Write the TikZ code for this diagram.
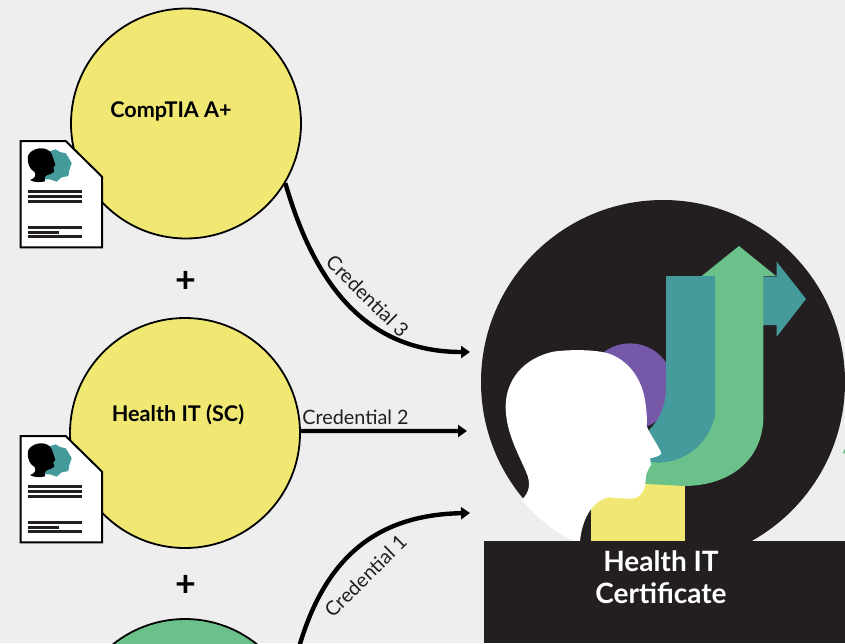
\documentclass[tikz,border=0pt]{standalone}
\usepackage{fontspec}
\setmainfont{Lato}
\usetikzlibrary{arrows.meta}
\definecolor{bgc}{HTML}{EEEEEE}
\definecolor{yel}{HTML}{F0E873}
\definecolor{grn}{HTML}{6AC18A}
\definecolor{tea}{HTML}{459B9B}
\definecolor{pur}{HTML}{7558A8}
\definecolor{blk}{HTML}{231F20}
\tikzset{
  cred/.style={circle,draw=black,line width=1.8pt,minimum size=230pt,inner sep=0pt},
  conn/.style={draw=black,line width=4.4pt,-{Triangle[length=9pt,width=12pt]}},
  lab/.style={font=\fontsize{21.6}{25}\selectfont\bfseries,text=black,inner sep=0pt},
  plus/.style={font=\fontsize{36}{38}\selectfont\bfseries,text=black,inner sep=0pt},
  clab/.style={font=\fontsize{19.8}{22}\selectfont,text=blk,inner sep=0pt},
  title/.style={font=\fontsize{28}{32}\selectfont\bfseries,text=white,align=center,inner sep=0pt},
  docline/.style={fill=blk,draw=none}
}
\newcommand{\docicon}[1]{%
 \begin{scope}[shift={(0pt,-#1pt)},x=0.33333pt,y=-0.33333pt]
  \draw[fill=white,draw=black,line width=2pt] (62,63)--(197,63)--(306,170)--(306,382)--(62,382)--cycle;
  \fill[tea] (167,88)--(180,96)--(197,100)--(205,112)--(215,130)--(208,150)--(205,168)--(185,172)--(170,185)--(150,178)--(125,178)--(120,130)--(145,95)--cycle;
  \fill[black] (90,180) .. controls (105,176) and (110,165) .. (103,155)
     .. controls (82,145) and (80,110) .. (87,102)
     .. controls (105,78) and (145,80) .. (155,102)
     .. controls (160,115) and (162,122) .. (166,135)
     -- (160,142) -- (163,155) -- (152,162)
     .. controls (135,165) and (132,172) .. (135,184)
     .. controls (120,188) and (100,187) .. (90,180) -- cycle;
  \fill[docline] (85,210) rectangle (245,218);
  \fill[docline] (85,225) rectangle (245,233);
  \fill[docline] (85,241) rectangle (245,249);
  \fill[docline] (85,319) rectangle (245,327);
  \fill[docline] (85,333) rectangle (177,341);
  \fill[docline] (85,346) rectangle (245,354);
 \end{scope}}
\begin{document}
\begin{tikzpicture}[x=1pt,y=-1pt]
\useasboundingbox (0,0) rectangle (845,643);
\clip (0,0) rectangle (845,643);
\fill[bgc] (0,0) rectangle (845,643);
% connector targets
\coordinate (t3) at (470,352);
\coordinate (t2) at (467,431);
\coordinate (t1) at (470,513);
% credential circles
\node[cred,fill=yel] (ca) at (186,123.5) {};
\node[cred,fill=yel] (cb) at (185,433) {};
\node[cred,fill=grn] (cc) at (185,734) {};
\node[lab] (la) at (171,111) {CompTIA A+};
\node[lab] (lb) at (178,415) {Health IT (SC)};
\node[plus] (p1) at (186,282) {+};
\node[plus] (p2) at (186,586) {+};
\docicon{120}
\docicon{415}
% connectors
\draw[conn] (ca.-31) .. controls (312,275) and (360,352) .. (t3);
\draw[conn] (cb.1) -- (t2);
\draw[conn] (cc.25) .. controls (312,570) and (365,515) .. (t1);
\node[clab,rotate=-44.6] (c3) at (367.5,296) {Credential 3};
\node[clab] (c2) at (355.5,417) {Credential 2};
\node[clab,rotate=44.6] (c1) at (365.5,576) {Credential 1};
% emblem
\fill[blk] (663,382) circle (182);
\begin{scope}[shift={(470pt,-190pt)},x=0.33333pt,y=-0.33333pt]
  \fill[grn] (1118,790)--(1125,776)--(1125,790)--cycle;
  \fill[yel] (362,860) rectangle (644,1053);
  \fill[pur] (480,590) circle[radius=43.3pt];
  % teal right arrow
  \fill[tea] (870,260)--(920,260)--(920,215)--(1008,327)--(920,440)--(920,405)--(870,405)--cycle;
  % green arrow
  \fill[grn] (807,168)--(918,258)--(880,258)--(880,680)
     .. controls (880,800) and (790,888) .. (640,888)
     -- (500,880) -- (500,780) -- (735,600) -- (735,258) -- (695,258) -- cycle;
  % teal J
  \fill[tea] (588,258)--(735,258)--(735,680)
     .. controls (710,770) and (640,818) .. (560,818)
     -- (500,810) -- (500,750) .. controls (560,710) and (588,660) .. (588,590) -- cycle;
  % white head
  \fill[white] (330,1053) .. controls (335,1000) and (360,930) .. (420,922)
     .. controls (450,925) and (480,928) .. (495,924)
     .. controls (515,918) and (525,900) .. (527,870)
     .. controls (527,855) and (530,845) .. (543,825)
     -- (540,805) .. controls (555,802) and (570,798) .. (574,790)
     .. controls (565,765) and (540,735) .. (530,708)
     .. controls (532,680) and (528,650) .. (525,630)
     .. controls (515,570) and (480,515) .. (420,492)
     .. controls (380,478) and (300,478) .. (250,485)
     .. controls (160,505) and (107,570) .. (107,650)
     .. controls (107,730) and (150,800) .. (170,850)
     .. controls (182,880) and (180,905) .. (155,930)
     .. controls (200,980) and (250,1025) .. (310,1053) -- cycle;
\end{scope}
% plinth
\fill[blk] (484,541) rectangle (845,643);
\node[title] (h1) at (661,561) {Health IT};
\node[title] (h2) at (661,593) {Certificate};
\end{tikzpicture}
\end{document}
